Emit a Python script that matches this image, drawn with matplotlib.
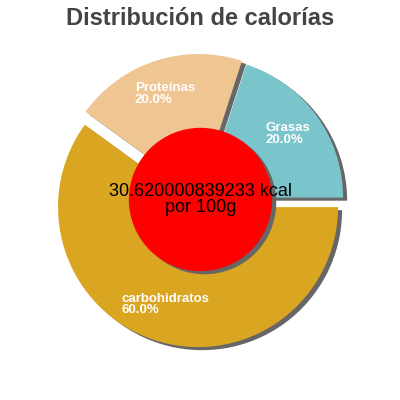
import matplotlib.pyplot as plt
import numpy as np

plt.rcParams['font.family'] = ['Liberation Sans', 'DejaVu Sans']

# data
labels = ['Grasas', 'Proteínas', 'carbohidratos']
values = [20.0, 20.0, 60.0]
colors = ['#7AC4CC', '#EFC692', '#DAA520']
explode = [0.023, 0.041, 0.057]
kcal = '30.620000839233'

fig = plt.figure(figsize=(4, 4), dpi=100)
ax = fig.add_axes([0, 0, 1, 1])
r = 140.0
ax.axis('off')

# shadow pie, then the real one
sx, sy = 0.029, -0.022
ax.pie(values, explode=explode, colors=['#666666'] * 3, startangle=0,
       center=(sx, sy), frame=False)
wedges, _ = ax.pie(values, explode=explode, colors=colors, startangle=0,
                   center=(0, 0), frame=False)

ax.set_xlim(-200.5 / r, 199.5 / r)
ax.set_ylim(-200.5 / r, 199.5 / r)
ax.set_aspect('equal')

# label anchors (angle deg, radius) for left aligned text
anchors = [(45, 0.66), (122, 0.887), (233, 0.94)]
total = sum(values)
for lab, v, (ang, rad) in zip(labels, values, anchors):
    a = np.radians(ang)
    ax.text(rad * np.cos(a), rad * np.sin(a), '%s\n%.1f%%' % (lab, v / total * 100),
            color='white', fontsize=9.5, fontweight='bold', ha='left', va='center',
            linespacing=0.95)

# centre disc
ax.add_patch(plt.Circle((sx, sy), 0.507, color='#666666'))
ax.add_patch(plt.Circle((0, 0), 0.507, color='#FF0000'))
ax.text(0, 0, kcal + ' kcal\npor 100g', color='black', fontsize=13,
        ha='center', va='center', linespacing=1.0)

fig.text(0.5, 0.982, 'Distribución de calorías', ha='center', va='top',
         fontsize=17, fontweight='bold', color='#444444')

plt.savefig('out.png')
